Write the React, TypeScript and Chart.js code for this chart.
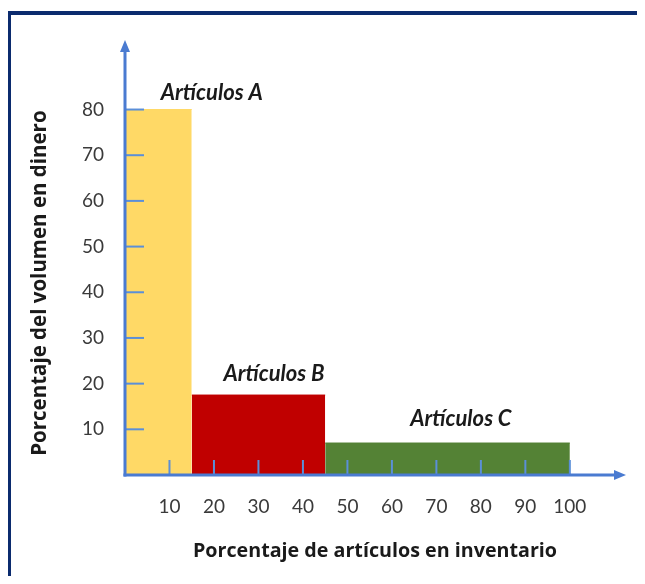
import React, { useEffect, useRef } from "react";
import { Chart, registerables } from "chart.js";

Chart.register(...registerables);

// ---- data ----
const categories = ["Artículos A", "Artículos B", "Artículos C"];
const rangeStart = [0, 15, 45];
const rangeEnd = [15, 45, 100];
const moneyShare = [80, 17.5, 7];
const xTickValues = [10, 20, 30, 40, 50, 60, 70, 80, 90, 100];
const yTickValues = [10, 20, 30, 40, 50, 60, 70, 80];
const barColors = ["#ffd966", "#c00000", "#548235"];
const xTitle = "Porcentaje de artículos en inventario";
const yTitle = "Porcentaje del volumen en dinero";

const AXIS = "#4a7bd1";
const FONT = "Lato, 'Open Sans', sans-serif";
const TITLE_FONT = "'Open Sans', Lato, sans-serif";

const decorPlugin = {
  id: "decor",
  afterDatasetsDraw(chart: any) {
    const { ctx, chartArea, scales } = chart;
    const xs = scales.x;
    const ys = scales.y;
    const x0 = xs.getPixelForValue(0);
    const y0 = ys.getPixelForValue(0);
    ctx.save();
    ctx.strokeStyle = "#5b8fd8";
    ctx.lineWidth = 2;
    yTickValues.forEach((v) => {
      const py = ys.getPixelForValue(v);
      ctx.beginPath();
      ctx.moveTo(x0, py);
      ctx.lineTo(x0 + 19, py);
      ctx.stroke();
    });
    xTickValues.forEach((v) => {
      const px = xs.getPixelForValue(v);
      ctx.beginPath();
      ctx.moveTo(px, y0);
      ctx.lineTo(px, y0 - 15);
      ctx.stroke();
    });
    ctx.strokeStyle = AXIS;
    ctx.fillStyle = AXIS;
    ctx.lineWidth = 3;
    ctx.beginPath();
    ctx.moveTo(x0, y0 + 1.5);
    ctx.lineTo(x0, chartArea.top + 8);
    ctx.stroke();
    ctx.beginPath();
    ctx.moveTo(x0, chartArea.top - 1);
    ctx.lineTo(x0 - 5, chartArea.top + 11);
    ctx.lineTo(x0 + 5, chartArea.top + 11);
    ctx.closePath();
    ctx.fill();
    ctx.beginPath();
    ctx.moveTo(x0 - 1.5, y0);
    ctx.lineTo(chartArea.right - 8, y0);
    ctx.stroke();
    ctx.beginPath();
    ctx.moveTo(chartArea.right + 1, y0);
    ctx.lineTo(chartArea.right - 11, y0 - 5);
    ctx.lineTo(chartArea.right - 11, y0 + 5);
    ctx.closePath();
    ctx.fill();
    // category labels
    const labelAnchor = [19.5, 33.5, 75.5];
    const labelLift = [17, 21, 24];
    ctx.fillStyle = "#1a1a1a";
    ctx.font = `italic bold 22px ${FONT}`;
    ctx.textAlign = "center";
    ctx.textBaseline = "middle";
    categories.forEach((c, i) => {
      const px = xs.getPixelForValue(labelAnchor[i]);
      const py = ys.getPixelForValue(moneyShare[i]) - labelLift[i];
      ctx.fillText(c, px, py);
    });
    // y-axis title (rotated)
    ctx.font = `bold 20.5px ${TITLE_FONT}`;
    ctx.translate(29, ys.getPixelForValue(42));
    ctx.rotate(-Math.PI / 2);
    ctx.fillText(yTitle, 0, 0);
    ctx.restore();
  },
};

export default function App() {
  const ref = useRef<HTMLCanvasElement>(null);
  useEffect(() => {
    if (!ref.current) return;
    const datasets = categories.map((c, i) => ({
      label: c,
      data: [
        { x: rangeStart[i], y: moneyShare[i] },
        { x: rangeEnd[i], y: moneyShare[i] },
      ],
      backgroundColor: barColors[i],
      borderColor: barColors[i],
      borderWidth: 1,
      fill: "origin",
      pointRadius: 0,
      tension: 0,
    }));
    const chart = new Chart(ref.current, {
      type: "line",
      data: { datasets },
      options: {
        responsive: false,
        animation: false,
        devicePixelRatio: 1,
        layout: { padding: { left: 0, top: 26, right: 20, bottom: 0 } },
        plugins: { legend: { display: false }, tooltip: { enabled: false } },
        scales: {
          x: {
            type: "linear",
            min: 0,
            max: 112.4,
            grid: { display: false },
            border: { display: false },
            afterFit: (s: any) => {
              s.height = 109;
            },
            afterBuildTicks: (s: any) => {
              s.ticks = xTickValues.map((v) => ({ value: v }));
            },
            ticks: {
              autoSkip: false,
              maxRotation: 0,
              padding: 12,
              color: "#3a3a3a",
              font: { family: FONT, size: 19 },
            },
            title: {
              display: true,
              text: xTitle,
              color: "#1a1a1a",
              font: { family: TITLE_FONT, size: 19.7, weight: "bold" },
              padding: { top: 0, bottom: 21 },
            },
          },
          y: {
            type: "linear",
            min: 0,
            max: 95,
            grid: { display: false },
            border: { display: false },
            afterFit: (s: any) => {
              s.width = 114;
            },
            afterBuildTicks: (s: any) => {
              s.ticks = yTickValues.map((v) => ({ value: v }));
            },
            ticks: {
              padding: 13,
              color: "#3a3a3a",
              font: { family: FONT, size: 19 },
            },
            title: { display: false },
          },
        },
      },
      plugins: [decorPlugin],
    });
    return () => chart.destroy();
  }, []);
  return (
    <div style={{ paddingTop: 3, marginBottom: -8 }}>
      <div
        style={{
          marginLeft: -1,
          width: 638,
          height: 573,
          boxSizing: "border-box",
          borderTop: "4px solid #0b2b6e",
          borderLeft: "4px solid #0b2b6e",
          overflow: "hidden",
        }}
      >
        <canvas
          ref={ref}
          width={634}
          height={569}
          style={{ display: "block", width: 634, height: 569 }}
        />
      </div>
    </div>
  );
}
